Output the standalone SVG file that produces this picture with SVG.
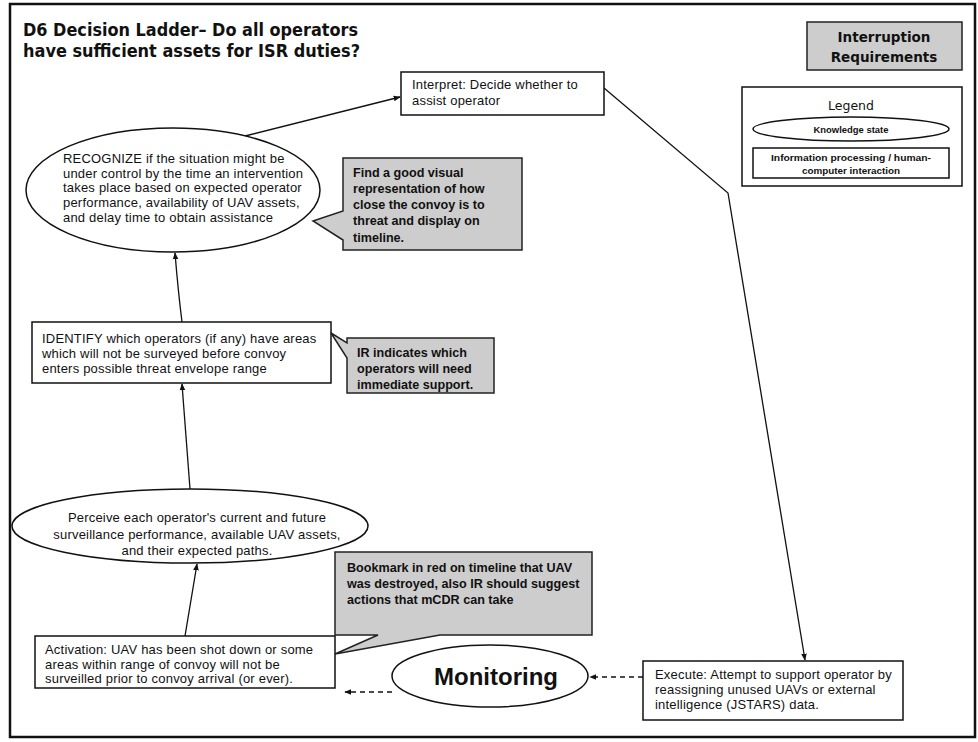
<svg xmlns="http://www.w3.org/2000/svg" width="978" height="742" viewBox="0 0 978 742">
<style>
.t{font-family:"Liberation Sans",Arial,sans-serif;font-size:13px;letter-spacing:0.2px;fill:#111}
.b{font-family:"Liberation Sans",Arial,sans-serif;font-size:12.6px;font-weight:bold;fill:#111}
.lg{font-family:"Liberation Sans",Arial,sans-serif;font-size:9.5px;font-weight:bold;fill:#111}
.box{fill:#fff;stroke:#111;stroke-width:1.5}
.call{fill:#cdcdcd;stroke:#222;stroke-width:1.5}
.ln{fill:none;stroke:#111;stroke-width:1.3}
.dash{fill:none;stroke:#111;stroke-width:1.3;stroke-dasharray:5,4}
</style>
<defs>
<marker id="ah" viewBox="0 0 10 10" refX="9" refY="5" markerWidth="7" markerHeight="7" orient="auto" markerUnits="userSpaceOnUse">
<path d="M0,1 L10,5 L0,9 z" fill="#111"/>
</marker>
</defs>
<rect x="0" y="0" width="978" height="742" fill="#fff"/>
<rect x="10" y="4" width="965" height="733" fill="none" stroke="#111" stroke-width="2.5"/>

<g id="title">
<text x="23" y="36" font-family="'DejaVu Sans',Verdana,sans-serif" font-weight="bold" font-size="17" textLength="335" lengthAdjust="spacingAndGlyphs" fill="#111">D6 Decision Ladder– Do all operators</text>
<text x="23" y="57" font-family="'DejaVu Sans',Verdana,sans-serif" font-weight="bold" font-size="17" textLength="337" lengthAdjust="spacingAndGlyphs" fill="#111">have sufficient assets for ISR duties?</text>
</g>

<g id="interruption">
<rect x="807" y="22" width="155" height="48" class="call"/>
<text x="884" y="42" text-anchor="middle" font-family="'DejaVu Sans',Verdana,sans-serif" font-weight="bold" font-size="13.5" fill="#111">Interruption</text>
<text x="884" y="62" text-anchor="middle" font-family="'DejaVu Sans',Verdana,sans-serif" font-weight="bold" font-size="13.5" fill="#111">Requirements</text>
</g>

<g id="legend">
<rect x="742" y="87" width="220" height="99" class="box"/>
<text x="851" y="110" text-anchor="middle" font-family="'DejaVu Sans',Verdana,sans-serif" font-size="12.5" fill="#111">Legend</text>
<ellipse cx="851" cy="129" rx="98" ry="12" class="box"/>
<text x="851" y="133" text-anchor="middle" class="lg" textLength="75" lengthAdjust="spacingAndGlyphs">Knowledge state</text>
<rect x="753" y="148" width="196" height="30" class="box"/>
<text x="851" y="161" text-anchor="middle" class="lg" textLength="160" lengthAdjust="spacingAndGlyphs">Information processing / human-</text>
<text x="851" y="174" text-anchor="middle" class="lg" textLength="98" lengthAdjust="spacingAndGlyphs">computer interaction</text>
</g>

<g id="connectors">
<line x1="245" y1="136" x2="400" y2="97" class="ln" marker-end="url(#ah)"/>
<path d="M182,322 Q178,290 175,253" class="ln" marker-end="url(#ah)"/>
<line x1="190" y1="489" x2="182" y2="384" class="ln" marker-end="url(#ah)"/>
<line x1="185" y1="636" x2="197" y2="564" class="ln" marker-end="url(#ah)"/>
<polyline points="604,88 728,193 805,660" class="ln" marker-end="url(#ah)"/>
<line x1="643" y1="677" x2="590" y2="677" class="dash" marker-end="url(#ah)"/>
<line x1="392" y1="692" x2="345" y2="692" class="dash" marker-end="url(#ah)"/>
</g>

<g id="interpret">
<rect x="401" y="72" width="203" height="43" class="box"/>
<text x="412" y="89" class="t">Interpret: Decide whether to</text>
<text x="412" y="105" class="t">assist operator</text>
</g>

<g id="recognize">
<ellipse cx="173" cy="190" rx="147" ry="62" class="box"/>
<text x="63" y="163" class="t">RECOGNIZE if the situation might be</text>
<text x="63" y="178" class="t">under control by the time an intervention</text>
<text x="63" y="192" class="t">takes place based on expected operator</text>
<text x="63" y="207" class="t">performance, availability of UAV assets,</text>
<text x="63" y="222" class="t">and delay time to obtain assistance</text>
</g>

<g id="callout-visual">
<polygon points="343,158 522,158 522,250 343,250 343,240 313,221 343,211" class="call"/>
<text x="353" y="177" class="b">Find a good visual</text>
<text x="353" y="193" class="b">representation of how</text>
<text x="353" y="209" class="b">close the convoy is to</text>
<text x="353" y="225" class="b">threat and display on</text>
<text x="353" y="242" class="b">timeline.</text>
</g>

<g id="identify">
<rect x="32" y="322" width="299" height="61" class="box"/>
<text x="42" y="343" class="t">IDENTIFY which operators (if any) have areas</text>
<text x="42" y="358" class="t">which will not be surveyed before convoy</text>
<text x="42" y="373" class="t">enters possible threat envelope range</text>
</g>

<g id="callout-ir">
<polygon points="347,338 494,338 494,393 347,393 347,358 331,333 347,343" class="call"/>
<text x="357" y="357" class="b">IR indicates which</text>
<text x="357" y="373" class="b">operators will need</text>
<text x="357" y="389" class="b">immediate support.</text>
</g>

<g id="perceive">
<ellipse cx="190" cy="526" rx="178" ry="37" class="box"/>
<text x="197" y="522" text-anchor="middle" class="t">Perceive each operator's current and future</text>
<text x="197" y="539" text-anchor="middle" class="t">surveillance performance, available UAV assets,</text>
<text x="197" y="555" text-anchor="middle" class="t">and their expected paths.</text>
</g>

<g id="callout-bookmark">
<polygon points="335,552 592,552 592,635 440,635 335,654 378,635 335,635" class="call"/>
<text x="347" y="572" class="b">Bookmark in red on timeline that UAV</text>
<text x="347" y="588" class="b">was destroyed, also IR should suggest</text>
<text x="347" y="604" class="b">actions that mCDR can take</text>
</g>

<g id="activation">
<rect x="35" y="636" width="300" height="52" class="box"/>
<text x="45" y="654" class="t">Activation: UAV has been shot down or some</text>
<text x="45" y="669" class="t">areas within range of convoy will not be</text>
<text x="45" y="683" class="t">surveilled prior to convoy arrival (or ever).</text>
</g>

<g id="monitoring">
<ellipse cx="490" cy="676" rx="98" ry="31" class="box"/>
<text x="496" y="685" text-anchor="middle" font-family="'Liberation Sans',Arial,sans-serif" font-weight="bold" font-size="24" fill="#111">Monitoring</text>
</g>

<g id="execute">
<rect x="643" y="661" width="260" height="59" class="box"/>
<text x="655" y="679" class="t">Execute: Attempt to support operator by</text>
<text x="655" y="694" class="t">reassigning unused UAVs or external</text>
<text x="655" y="709" class="t">intelligence (JSTARS) data.</text>
</g>
</svg>
